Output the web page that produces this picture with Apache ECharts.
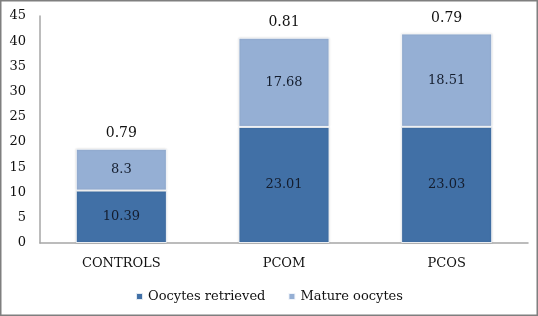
<!DOCTYPE html>
<html>
<head>
<meta charset="utf-8">
<script src="https://cdn.jsdelivr.net/npm/echarts@6/dist/echarts.min.js"></script>
<style>
html,body{margin:0;padding:0;background:#fff;}
#c{width:538px;height:316px;}
</style>
</head>
<body>
<div id="c"></div>
<script>
var categories = ['CONTROLS', 'PCOM', 'PCOS'];
var retrieved = [10.39, 23.01, 23.03];
var mature = [8.3, 17.68, 18.51];
var ratioLabels = ['0.79', '0.81', '0.79'];
var yTicks = [0, 5, 10, 15, 20, 25, 30, 35, 40, 45];

var totals = retrieved.map(function (v, i) { return +(v + mature[i]).toFixed(2); });
var font = 'DejaVu Serif';

var chart = echarts.init(document.getElementById('c'));
chart.setOption({
  animation: false,
  textStyle: { fontFamily: font },
  graphic: [{
    type: 'rect',
    shape: { x: 0.75, y: 0.75, width: 536.5, height: 314.5 },
    style: { fill: 'none', stroke: '#7f7f7f', lineWidth: 1.5 },
    silent: true, z: 100
  }],
  grid: { left: 40, right: 10, top: 16, bottom: 73 },
  legend: {
    bottom: 8,
    left: 'center',
    itemWidth: 7,
    itemHeight: 7,
    itemGap: 22,
    icon: 'rect',
    textStyle: { fontFamily: font, fontSize: 13, color: '#111' },
    data: ['Oocytes retrieved', 'Mature oocytes']
  },
  xAxis: {
    type: 'category',
    data: categories,
    axisLine: { lineStyle: { color: '#a6a6a6', width: 1.5 } },
    axisTick: { show: false },
    axisLabel: { fontFamily: font, fontSize: 13, color: '#111', margin: 14 }
  },
  yAxis: {
    type: 'value',
    min: yTicks[0],
    max: yTicks[yTicks.length - 1],
    interval: 5,
    axisLine: { show: true, lineStyle: { color: '#a6a6a6', width: 1.5 } },
    axisTick: { show: false },
    splitLine: { show: false },
    axisLabel: { fontFamily: font, fontSize: 13, color: '#111', margin: 14 }
  },
  series: [
    {
      name: 'Oocytes retrieved',
      type: 'bar',
      stack: 'a',
      barWidth: '56%',
      data: retrieved,
      itemStyle: { color: '#4170a6', borderColor: 'rgba(255,255,255,0.85)', borderWidth: 1,
        shadowColor: 'rgba(0,0,0,0.15)', shadowBlur: 2 },
      label: { show: true, position: 'inside', fontFamily: font, fontSize: 13, color: '#141d2e' }
    },
    {
      name: 'Mature oocytes',
      type: 'bar',
      stack: 'a',
      data: mature,
      itemStyle: { color: '#95afd4', borderColor: 'rgba(255,255,255,0.85)', borderWidth: 1,
        shadowColor: 'rgba(0,0,0,0.15)', shadowBlur: 2 },
      label: { show: true, position: 'inside', fontFamily: font, fontSize: 13, color: '#141d2e' }
    },
    {
      name: 'ratio',
      type: 'line',
      data: totals,
      symbol: 'circle',
      symbolSize: 1,
      showSymbol: true,
      itemStyle: { color: 'rgba(0,0,0,0)' },
      lineStyle: { width: 0, color: 'rgba(0,0,0,0)' },
      silent: true,
      z: 10,
      label: {
        show: true,
        position: 'top',
        distance: 8,
        fontFamily: font,
        fontSize: 14,
        color: '#111',
        formatter: function (p) { return ratioLabels[p.dataIndex]; }
      }
    }
  ]
});
</script>
</body>
</html>
